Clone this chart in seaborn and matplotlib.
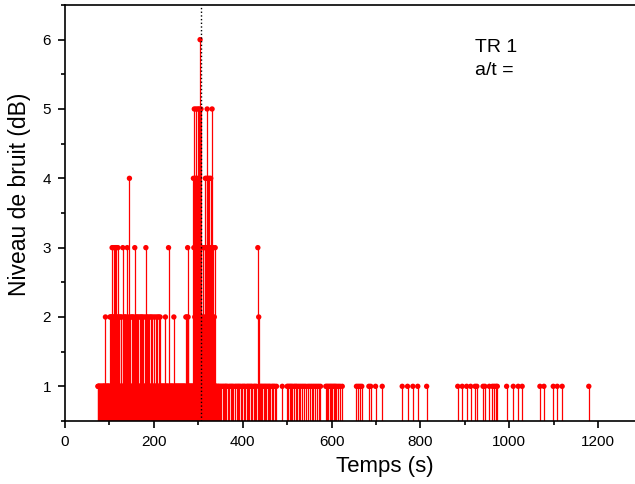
import matplotlib
matplotlib.use('Agg')
import matplotlib.pyplot as plt
from matplotlib.ticker import MultipleLocator
import numpy as np
import pandas as pd
import seaborn as sns

sns.set_style('ticks')
plt.rcParams['font.family'] = ['Liberation Sans', 'DejaVu Sans']
plt.rcParams['text.color'] = 'black'
plt.rcParams['axes.labelcolor'] = 'black'

# Times (s) of each noise event, grouped by noise level (dB)
t_niv1 = [74, 75, 76, 77, 78, 80, 81, 82, 84, 85, 86, 87, 88, 89, 90, 92, 93,
          94, 95, 96, 97, 98, 99, 100, 102, 104, 108, 111, 116, 118, 121, 123,
          124, 126, 128, 129, 131, 133, 134, 136, 138, 139, 141, 143, 144, 146,
          148, 149, 151, 153, 154, 156, 158, 159, 161, 163, 164, 166, 167, 169,
          170, 172, 174, 175, 177, 178, 179, 181, 183, 185, 187, 188, 189, 191,
          192, 194, 195, 197, 198, 199, 201, 202, 203, 205, 206, 207, 209, 210,
          212, 213, 215, 216, 217, 218, 219, 220, 221, 222, 223, 224, 225, 227,
          228, 229, 230, 231, 232, 234, 235, 236, 237, 238, 239, 240, 241, 242,
          243, 244, 246, 247, 248, 249, 250, 251, 252, 253, 254, 255, 256, 257,
          258, 259, 260, 261, 262, 263, 264, 265, 266, 267, 268, 269, 270, 271,
          273, 275, 278, 279, 280, 281, 282, 283, 284, 285, 286, 287, 288, 289,
          297, 298, 301, 305, 308, 310, 312, 315, 316, 319, 324, 328, 333, 335,
          336, 337, 339, 340, 341, 344, 346, 349, 352, 355, 358, 361, 363, 366,
          370, 373, 376, 379, 383, 386, 389, 392, 395, 399, 402, 405, 409, 412,
          415, 418, 421, 425, 428, 431, 438, 441, 444, 447, 450, 453, 456, 459,
          462, 466, 469, 472, 476, 489, 500, 503, 506, 509, 512, 516, 519, 522,
          526, 530, 534, 538, 542, 547, 551, 555, 559, 563, 567, 571, 575, 587,
          590, 593, 596, 599, 602, 605, 608, 611, 615, 619, 624, 656, 660, 664,
          668, 684, 688, 699, 714, 759, 771, 783, 794, 814, 884, 894, 904, 913,
          923, 927, 941, 945, 955, 962, 966, 970, 973, 994, 1009, 1020, 1029,
          1069, 1078, 1099, 1108, 1119, 1179]
t_niv2 = [91, 101, 103, 105, 107, 109, 112, 114, 117, 120, 122, 125, 127, 132,
          135, 137, 142, 147, 150, 152, 155, 160, 162, 165, 168, 171, 173, 176,
          180, 184, 186, 190, 193, 196, 200, 204, 208, 211, 214, 226, 245, 272,
          274, 277, 292, 295, 303, 309, 313, 318, 323, 327, 332, 336, 436]
t_niv3 = [106, 110, 113, 115, 119, 130, 140, 157, 182, 233, 276, 290, 294, 298,
          302, 307, 311, 314, 317, 321, 326, 330, 334, 338, 434]
t_niv4 = [145, 289, 293, 296, 300, 316, 319, 322, 325, 328]
t_niv5 = [291, 295, 299, 302, 306, 320, 331]
t_niv6 = [304]

t_marque = 306  # dotted reference line

levels = {1: t_niv1, 2: t_niv2, 3: t_niv3, 4: t_niv4, 5: t_niv5, 6: t_niv6}
df = pd.concat([pd.DataFrame({'temps': t, 'niveau': lvl}) for lvl, t in levels.items()],
               ignore_index=True)

fig = plt.figure(figsize=(6.35, 4.84), dpi=100)
ax = fig.add_axes([0.1024, 0.1302, 0.8976, 0.8595])

# stems then dots
ax.vlines(df['temps'], 0.5, df['niveau'], color='red', linewidth=0.9, zorder=2)
sns.scatterplot(data=df, x='temps', y='niveau', color='red', s=15,
                edgecolor='none', ax=ax, zorder=3)

ax.axvline(t_marque, color='black', linestyle=':', linewidth=1.0, zorder=4)

ax.set_xlim(0, 1283)
ax.set_ylim(0.5, 6.5)
ax.xaxis.set_major_locator(MultipleLocator(200))
ax.xaxis.set_minor_locator(MultipleLocator(100))
ax.yaxis.set_minor_locator(MultipleLocator(0.5))
ax.set_yticks([1, 2, 3, 4, 5, 6])
ax.tick_params(which='major', direction='out', length=5, width=1.2, labelsize=11,
               colors='black', pad=5)
ax.tick_params(which='minor', direction='out', length=3, width=1.2, colors='black')

for side in ['left', 'bottom', 'top']:
    ax.spines[side].set_linewidth(1.2)
    ax.spines[side].set_color('black')
ax.spines['right'].set_visible(False)

ax.set_xlabel('Temps (s)', fontsize=16)
ax.set_ylabel('Niveau de bruit (dB)', fontsize=16.5)
ax.xaxis.set_label_coords(0.561, -0.085)
ax.yaxis.set_label_coords(-0.06, 0.546)

ax.text(0.719, 0.887, 'TR 1', transform=ax.transAxes, fontsize=14, ha='left', va='baseline')
ax.text(0.719, 0.832, 'a/t =', transform=ax.transAxes, fontsize=14, ha='left', va='baseline')

fig.savefig('out.png', dpi=100)
